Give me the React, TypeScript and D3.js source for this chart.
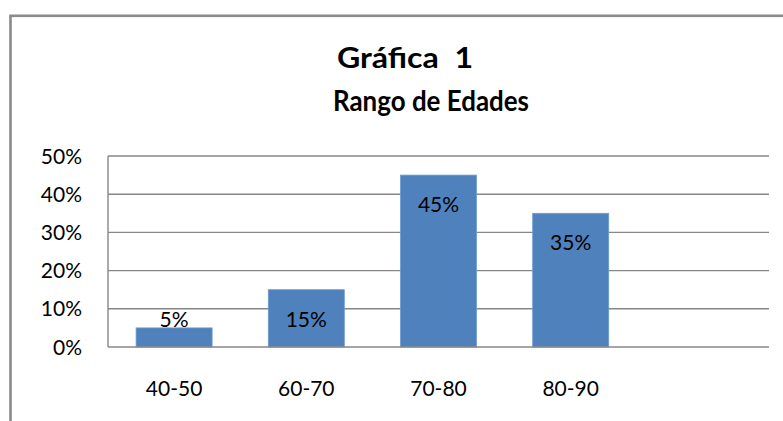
import React, { useEffect, useRef } from "react";
import * as d3 from "d3";

const categories = ["40-50", "60-70", "70-80", "80-90", ""];
const values = [0.05, 0.15, 0.45, 0.35, null];
const yTicks = [0, 0.1, 0.2, 0.3, 0.4, 0.5];
const titleLines = ["Gráfica  1", "Rango de Edades"];

const W = 783;
const H = 421;
const FONT = "Lato, 'Open Sans', sans-serif";

export default function App() {
  const ref = useRef<SVGSVGElement>(null);

  useEffect(() => {
    const svg = d3.select(ref.current);
    svg.selectAll("*").remove();

    const plot = { left: 108, right: 769, top: 156, bottom: 347 };

    // chart border (extends beyond the visible frame)
    svg
      .append("rect")
      .attr("x", 10.5)
      .attr("y", 15.8)
      .attr("width", 900)
      .attr("height", 500)
      .attr("fill", "#fff")
      .attr("stroke", "#8a8a8a")
      .attr("stroke-width", 2.6);

    // title
    const titleStarts = [337, 333];
    const titleWidths = [136, 196];
    const titleBaselines = [68, 111];
    titleLines.forEach((t, i) => {
      svg
        .append("text")
        .attr("x", titleStarts[i])
        .attr("y", titleBaselines[i])
        .attr("text-anchor", "start")
        .attr("font-family", FONT)
        .attr("font-weight", "bold")
        .attr("font-size", 29)
        .attr("textLength", titleWidths[i])
        .attr("lengthAdjust", "spacingAndGlyphs")
        .style("white-space", "pre")
        .attr("fill", "#000")
        .text(t);
    });

    const x = d3
      .scaleBand<string>()
      .domain(categories.map((c, i) => String(i)))
      .range([plot.left, plot.right])
      .paddingInner(0.425)
      .paddingOuter(0.2125);

    const y = d3.scaleLinear().domain([0, 0.5]).range([plot.bottom, plot.top]);

    // gridlines
    svg
      .append("g")
      .selectAll("line")
      .data(yTicks.filter((t) => t > 0))
      .join("line")
      .attr("x1", plot.left)
      .attr("x2", plot.right)
      .attr("y1", (d) => y(d))
      .attr("y2", (d) => y(d))
      .attr("stroke", "#878787")
      .attr("stroke-width", 1.4);

    // y axis line
    svg
      .append("line")
      .attr("x1", plot.left)
      .attr("x2", plot.left)
      .attr("y1", plot.top)
      .attr("y2", plot.bottom)
      .attr("stroke", "#878787")
      .attr("stroke-width", 1.4);

    // y tick labels
    svg
      .append("g")
      .selectAll("text")
      .data(yTicks)
      .join("text")
      .attr("x", 82)
      .attr("y", (d) => y(d))
      .attr("dy", "0.36em")
      .attr("text-anchor", "end")
      .attr("font-family", FONT)
      .attr("font-size", 21)
      .attr("fill", "#000")
      .text((d) => d3.format(".0%")(d));

    // bars
    const data = categories
      .map((c, i) => ({ c, i: String(i), v: values[i] }))
      .filter((d) => d.v != null) as { c: string; i: string; v: number }[];

    svg
      .append("g")
      .selectAll("rect")
      .data(data)
      .join("rect")
      .attr("x", (d) => x(d.i)!)
      .attr("y", (d) => y(d.v))
      .attr("width", x.bandwidth())
      .attr("height", (d) => y(0) - y(d.v))
      .attr("fill", "#4F81BD")
      .attr("stroke", "#6f9bd0")
      .attr("stroke-width", 0.8);

    // baseline axis
    svg
      .append("line")
      .attr("x1", plot.left)
      .attr("x2", plot.right)
      .attr("y1", plot.bottom)
      .attr("y2", plot.bottom)
      .attr("stroke", "#878787")
      .attr("stroke-width", 1.6);

    // data labels
    svg
      .append("g")
      .selectAll("text")
      .data(data)
      .join("text")
      .attr("x", (d) => x(d.i)! + x.bandwidth() / 2)
      .attr("y", (d) => {
        const top = y(d.v);
        return y(0) - top > 45 ? top + 37 : top - 1;
      })
      .attr("text-anchor", "middle")
      .attr("font-family", FONT)
      .attr("font-size", 21)
      .attr("fill", "#000")
      .text((d) => d3.format(".0%")(d.v));

    // category labels
    svg
      .append("g")
      .selectAll("text")
      .data(categories.map((c, i) => ({ c, i: String(i) })))
      .join("text")
      .attr("x", (d) => x(d.i)! + x.bandwidth() / 2)
      .attr("y", 396)
      .attr("text-anchor", "middle")
      .attr("font-family", FONT)
      .attr("font-size", 21)
      .attr("fill", "#000")
      .text((d) => d.c);
  }, []);

  return (
    <svg
      ref={ref}
      width={W}
      height={H}
      style={{ position: "absolute", left: 0, top: 0, background: "#fff" }}
    />
  );
}
